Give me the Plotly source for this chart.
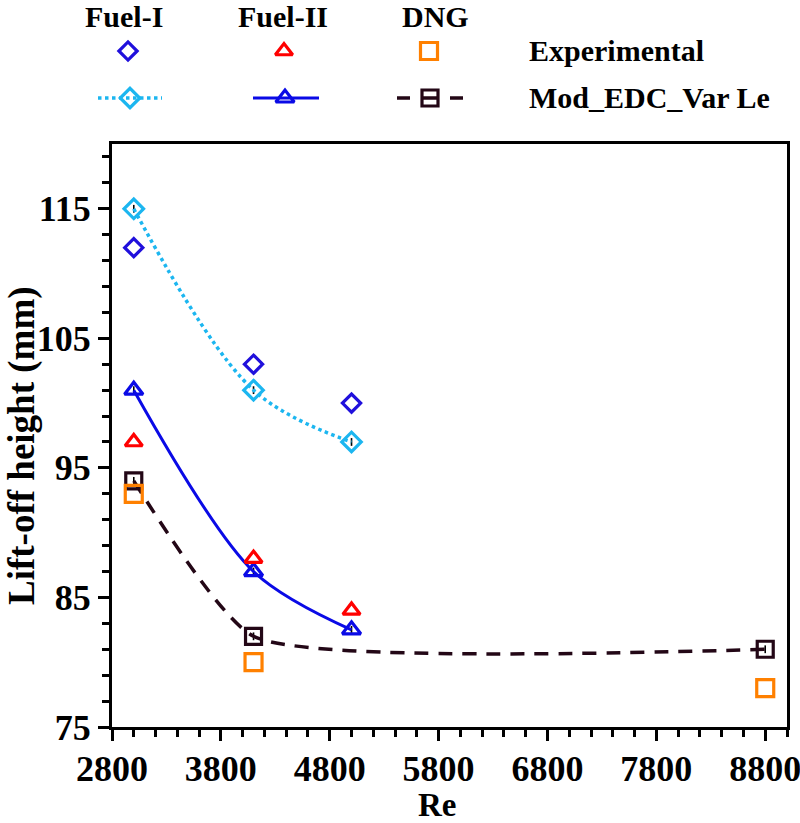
import plotly.graph_objects as go

# ---------------- data ----------------
re_fuel = [3000, 4100, 5000]
re_dng = [3000, 4100, 8800]

fuel1_exp = [112, 103, 100]
fuel1_mod = [115, 101, 97]
fuel2_exp = [97, 88, 84]
fuel2_mod = [101, 87, 82.5]
dng_exp = [93, 80, 78]
dng_mod = [94, 82, 81]

col_headers = ["Fuel-I", "Fuel-II", "DNG"]
row_labels = ["Experimental", "Mod_EDC_Var Le"]
x_title = "Re"
y_title = "Lift-off height (mm)"

# ---------------- styles ----------------
C_F1_EXP = "#2010dc"
C_F1_MOD = "#1cb6f0"
C_F2_EXP = "#ff0000"
C_F2_MOD = "#0a0ae6"
C_DNG_EXP = "#ff8000"
C_DNG_MOD = "#230716"
FONT = "Liberation Serif"

W, H = 800, 823
L, R, T, B = 112, 787, 144, 727

err = dict(type="constant", value=0.3, color="black", thickness=1.6, width=0)

fig = go.Figure()

# model curves (spline) with markers
fig.add_trace(go.Scatter(
    x=re_fuel, y=fuel1_mod, mode="lines+markers",
    line=dict(color=C_F1_MOD, width=3.5, dash="dot", shape="spline", smoothing=1),
    marker=dict(symbol="diamond-open", size=15, color=C_F1_MOD, line=dict(width=3.2)),
    error_y=err, showlegend=False))
fig.add_trace(go.Scatter(
    x=re_fuel, y=fuel2_mod, mode="lines+markers",
    line=dict(color=C_F2_MOD, width=3, shape="spline", smoothing=0.9),
    marker=dict(symbol="triangle-up-open", size=16, color=C_F2_MOD, line=dict(width=3.2)),
    error_y=err, showlegend=False))
fig.add_trace(go.Scatter(
    x=re_dng, y=dng_mod, mode="lines+markers",
    line=dict(color=C_DNG_MOD, width=3.5, dash="14px,10px", shape="spline", smoothing=0.5),
    marker=dict(symbol="square-open", size=16, color=C_DNG_MOD, line=dict(width=3.2)),
    error_y=err, showlegend=False))

# experimental markers
fig.add_trace(go.Scatter(
    x=re_fuel, y=fuel1_exp, mode="markers",
    marker=dict(symbol="diamond-open", size=14, color=C_F1_EXP, line=dict(width=3.2)),
    showlegend=False))
fig.add_trace(go.Scatter(
    x=re_fuel, y=fuel2_exp, mode="markers",
    marker=dict(symbol="triangle-up-open", size=15, color=C_F2_EXP, line=dict(width=3.2)),
    showlegend=False))
fig.add_trace(go.Scatter(
    x=re_dng, y=dng_exp, mode="markers",
    marker=dict(symbol="square-open", size=17, color=C_DNG_EXP, line=dict(width=3.2)),
    showlegend=False))

# ---------------- custom legend on a separate full-page pixel axis ----------------
leg_cols_x = [128, 284, 429]
leg_rows_y = [51, 98]
leg_kw = dict(xaxis="x2", yaxis="y2", showlegend=False, hoverinfo="skip", cliponaxis=False)

# row 1: experimental
fig.add_trace(go.Scatter(x=[leg_cols_x[0]], y=[leg_rows_y[0]], mode="markers",
    marker=dict(symbol="diamond-open", size=14, color=C_F1_EXP, line=dict(width=3.2)), **leg_kw))
fig.add_trace(go.Scatter(x=[leg_cols_x[1]], y=[leg_rows_y[0]], mode="markers",
    marker=dict(symbol="triangle-up-open", size=15, color=C_F2_EXP, line=dict(width=3.2)), **leg_kw))
fig.add_trace(go.Scatter(x=[leg_cols_x[2]], y=[leg_rows_y[0]], mode="markers",
    marker=dict(symbol="square-open", size=17, color=C_DNG_EXP, line=dict(width=3.2)), **leg_kw))
# row 2: model
fig.add_trace(go.Scatter(x=[leg_cols_x[0] - 30, leg_cols_x[0] + 34], y=[leg_rows_y[1]] * 2, mode="lines",
    line=dict(color=C_F1_MOD, width=3.5, dash="dot"), **leg_kw))
fig.add_trace(go.Scatter(x=[leg_cols_x[0] + 2], y=[leg_rows_y[1]], mode="markers",
    marker=dict(symbol="diamond-open", size=15, color=C_F1_MOD, line=dict(width=3.2)), **leg_kw))
fig.add_trace(go.Scatter(x=[leg_cols_x[1] - 31, leg_cols_x[1] + 35], y=[leg_rows_y[1]] * 2, mode="lines",
    line=dict(color=C_F2_MOD, width=3), **leg_kw))
fig.add_trace(go.Scatter(x=[leg_cols_x[1] + 1], y=[leg_rows_y[1]], mode="markers",
    marker=dict(symbol="triangle-up-open", size=16, color=C_F2_MOD, line=dict(width=3.2)), **leg_kw))
fig.add_trace(go.Scatter(x=[leg_cols_x[2] - 32, leg_cols_x[2] + 34], y=[leg_rows_y[1]] * 2, mode="lines",
    line=dict(color=C_DNG_MOD, width=3.5, dash="13px,11px,18px,11px,13px"), **leg_kw))
fig.add_trace(go.Scatter(x=[leg_cols_x[2] + 1], y=[leg_rows_y[1]], mode="markers",
    marker=dict(symbol="square-open", size=16, color=C_DNG_MOD, line=dict(width=3.2)), **leg_kw))

annotations = []
for cx, txt in zip([124, 283, 435], col_headers):
    annotations.append(dict(x=cx, y=16, xref="x2", yref="y2", text=txt, showarrow=False,
                            xanchor="center", yanchor="middle",
                            font=dict(family=FONT, size=30, color="black", weight="bold")))
for ry, txt in zip(leg_rows_y, row_labels):
    annotations.append(dict(x=527, y=ry - 1, xref="x2", yref="y2", text=txt, showarrow=False,
                            xanchor="left", yanchor="middle",
                            font=dict(family=FONT, size=30, color="black", weight="bold")))
# axis titles
annotations.append(dict(x=437, y=805, xref="x2", yref="y2", text=x_title, showarrow=False,
                        xanchor="center", yanchor="middle",
                        font=dict(family=FONT, size=33, color="black", weight="bold")))
annotations.append(dict(x=22, y=446, xref="x2", yref="y2", text=y_title, showarrow=False,
                        textangle=-90, xanchor="center", yanchor="middle",
                        font=dict(family=FONT, size=37, color="black", weight="bold")))

tickfont = dict(family=FONT, size=36, color="black", weight="bold")

fig.update_layout(
    width=W, height=H,
    margin=dict(l=0, r=0, t=0, b=0),
    paper_bgcolor="white", plot_bgcolor="rgba(0,0,0,0)",
    xaxis=dict(domain=[L / W, R / W], range=[2800, 9000], tick0=2800, dtick=1000,
               ticks="outside", ticklen=11, tickwidth=3, tickcolor="black",
               minor=dict(ticks="outside", ticklen=7, tickwidth=3, tickcolor="black", dtick=200, tick0=2800),
               showline=True, linewidth=3, linecolor="black", mirror=True,
               showgrid=False, zeroline=False, tickfont=tickfont, automargin=False,
               ticklabeloverflow="allow", ticklabelstandoff=-3, anchor="y"),
    yaxis=dict(domain=[(H - B) / H, (H - T) / H], range=[75, 120], tick0=75, dtick=10,
               ticks="outside", ticklen=11, tickwidth=3, tickcolor="black",
               minor=dict(ticks="outside", ticklen=7, tickwidth=3, tickcolor="black", dtick=2, tick0=75),
               showline=True, linewidth=3, linecolor="black", mirror=True,
               showgrid=False, zeroline=False, tickfont=tickfont, automargin=False,
               ticklabeloverflow="allow", anchor="x"),
    xaxis2=dict(domain=[0, 1], range=[0, W], visible=False, anchor="y2", fixedrange=True),
    yaxis2=dict(domain=[0, 1], range=[H, 0], visible=False, anchor="x2", fixedrange=True),
    annotations=annotations,
)

fig.write_html("out.html", config={"displayModeBar": False},
               post_script="document.body.style.margin='0';document.body.style.overflow='hidden';")
